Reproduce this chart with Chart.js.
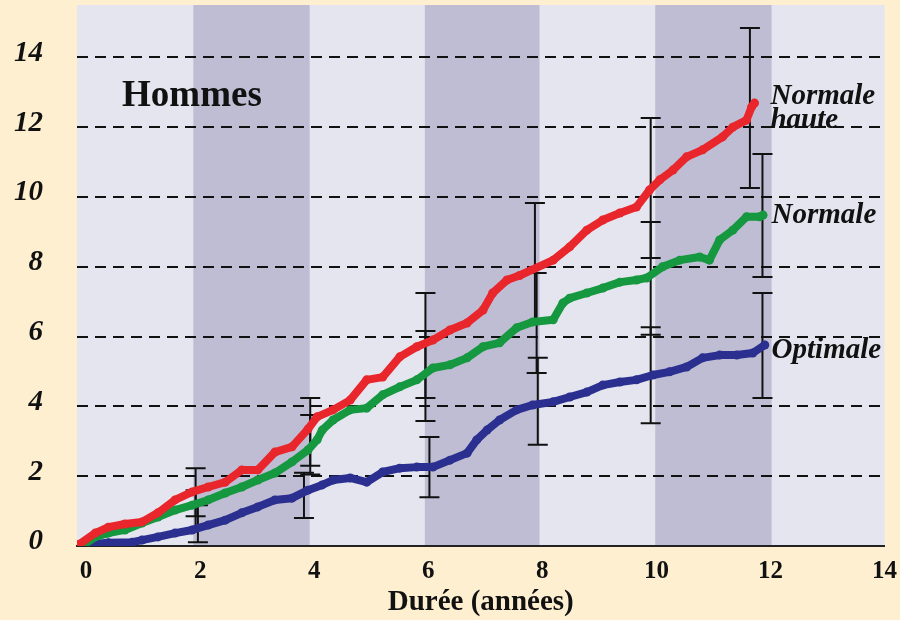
<!DOCTYPE html>
<html>
<head>
<meta charset="utf-8">
<script src="https://cdn.jsdelivr.net/npm/chart.js@4/dist/chart.umd.min.js"></script>
<style>
  html, body { margin: 0; padding: 0; background: #fdefd0; }
  canvas { display: block; }
</style>
</head>
<body>
<canvas id="chart" width="900" height="620"></canvas>
<script>
// axes
const xTicks = [0, 2, 4, 6, 8, 10, 12, 14];
const yTicks = [0, 2, 4, 6, 8, 10, 12, 14];
const darkBands = [[1.88, 3.92], [5.94, 7.95], [9.98, 12.02]];

// courbes (incidence cumulée, %)
const redX = [-0.12, 0.16, 0.39, 0.68, 0.98, 1.26, 1.56, 1.86, 2.14, 2.44, 2.73, 3.01, 3.31, 3.61, 3.89, 4.05, 4.33, 4.63, 4.92, 5.2, 5.5, 5.8, 6.08, 6.38, 6.68, 6.96, 7.13, 7.38, 7.6, 8.19, 8.48, 8.78, 9.06, 9.36, 9.65, 9.88, 10.06, 10.29, 10.53, 10.81, 11.16, 11.34, 11.58, 11.67, 11.72];
const redY = [0.05, 0.37, 0.54, 0.63, 0.69, 0.95, 1.32, 1.55, 1.69, 1.83, 2.18, 2.18, 2.69, 2.84, 3.35, 3.7, 3.9, 4.18, 4.76, 4.84, 5.42, 5.71, 5.9, 6.19, 6.39, 6.76, 7.25, 7.62, 7.75, 8.19, 8.57, 9.05, 9.34, 9.54, 9.71, 10.2, 10.49, 10.77, 11.15, 11.35, 11.72, 12.0, 12.2, 12.58, 12.69];

const greenX = [-0.07, 0.16, 0.39, 0.68, 0.98, 1.26, 1.56, 1.86, 2.14, 2.44, 2.73, 3.01, 3.31, 3.61, 3.89, 4.05, 4.14, 4.33, 4.63, 4.92, 5.2, 5.5, 5.8, 6.08, 6.38, 6.68, 6.96, 7.25, 7.55, 7.83, 8.19, 8.36, 8.48, 8.78, 9.06, 9.36, 9.65, 9.83, 10.11, 10.41, 10.76, 10.93, 11.11, 11.34, 11.58, 11.81, 11.87];
const greenY = [0, 0.26, 0.37, 0.46, 0.66, 0.83, 1.03, 1.17, 1.32, 1.52, 1.69, 1.89, 2.09, 2.41, 2.75, 3.04, 3.32, 3.61, 3.9, 3.95, 4.33, 4.56, 4.76, 5.1, 5.19, 5.39, 5.71, 5.82, 6.25, 6.42, 6.48, 6.96, 7.1, 7.25, 7.39, 7.56, 7.62, 7.68, 8.0, 8.19, 8.28, 8.19, 8.77, 9.05, 9.43, 9.43, 9.48];

const blueX = [-0.07, 0.39, 0.81, 0.98, 1.26, 1.56, 1.86, 2.14, 2.44, 2.73, 3.01, 3.31, 3.61, 3.89, 4.14, 4.33, 4.63, 4.92, 5.2, 5.5, 5.8, 6.08, 6.38, 6.68, 6.85, 7.03, 7.25, 7.55, 7.83, 8.19, 8.48, 8.78, 9.06, 9.36, 9.65, 9.94, 10.23, 10.53, 10.81, 11.11, 11.41, 11.69, 11.9];
const blueY = [0.03, 0.09, 0.11, 0.17, 0.26, 0.37, 0.46, 0.6, 0.74, 0.95, 1.12, 1.32, 1.37, 1.6, 1.75, 1.89, 1.95, 1.83, 2.12, 2.23, 2.26, 2.26, 2.46, 2.66, 3.04, 3.32, 3.61, 3.9, 4.04, 4.13, 4.27, 4.41, 4.61, 4.7, 4.76, 4.9, 4.99, 5.13, 5.39, 5.47, 5.47, 5.53, 5.76];

// barres d'erreur
const redErrX = [1.92, 3.93, 5.95, 7.87, 9.9, 11.64];
const redLow = [0.85, 2.3, 4.24, 6.4, 8.25, 10.26];
const redHigh = [2.23, 4.24, 7.25, 9.83, 12.26, 14.84];
const greenErrX = [1.92, 3.93, 5.95, 7.9, 9.9, 11.86];
const greenLow = [0.5, 2.05, 3.58, 4.96, 6.05, 7.71];
const greenHigh = [1.6, 3.75, 6.16, 7.82, 9.28, 11.23];
const blueErrX = [1.96, 3.82, 6.02, 7.92, 9.9, 11.86];
const blueLow = [0.11, 0.8, 1.4, 2.9, 3.52, 4.24];
const blueHigh = [1.17, 2.1, 3.12, 5.39, 6.27, 7.25];

function toPoints(xs, ys) {
  return xs.map((x, i) => ({ x, y: ys[i] }));
}

function errPoints(xs, lo, hi) {
  const pts = [];
  xs.forEach((x, i) => {
    pts.push({ x, y: lo[i] }, { x, y: hi[i] }, { x, y: null });
  });
  return pts;
}

function curve(label, xs, ys, color) {
  return {
    label,
    data: toPoints(xs, ys),
    borderColor: color,
    backgroundColor: color,
    borderWidth: 8,
    pointRadius: 4.5,
    pointBorderWidth: 0,
    borderJoinStyle: 'round',
    borderCapStyle: 'round',
    tension: 0,
    order: 1
  };
}

function errBars(label, xs, lo, hi) {
  return {
    label,
    data: errPoints(xs, lo, hi),
    borderColor: '#111',
    borderWidth: 2,
    pointStyle: 'line',
    pointRadius: 10,
    pointBorderWidth: 2,
    pointBorderColor: '#111',
    spanGaps: false,
    order: 5
  };
}

const bandPlugin = {
  id: 'bands',
  beforeDraw(chart) {
    const { ctx, chartArea: a, scales: { x } } = chart;
    ctx.save();
    ctx.fillStyle = '#fdefd0';
    ctx.fillRect(0, 0, chart.width, chart.height);
    ctx.fillStyle = '#e4e5ef';
    ctx.fillRect(a.left, a.top, a.right - a.left, a.bottom - a.top);
    ctx.fillStyle = '#bebdd3';
    darkBands.forEach(([s, e]) => {
      const x0 = x.getPixelForValue(s);
      const x1 = x.getPixelForValue(e);
      ctx.fillRect(x0, a.top, x1 - x0, a.bottom - a.top);
    });
    ctx.restore();
  }
};

const labelPlugin = {
  id: 'labels',
  afterDatasetsDraw(chart) {
    const { ctx, scales: { x, y } } = chart;
    ctx.save();
    ctx.fillStyle = '#111';
    ctx.textBaseline = 'middle';
    ctx.textAlign = 'left';
    ctx.font = 'bold 37px "Liberation Serif"';
    ctx.fillText('Hommes', x.getPixelForValue(0.63), y.getPixelForValue(12.87));
    ctx.font = 'italic bold 29px "Liberation Serif"';
    ctx.fillText('Normale', x.getPixelForValue(12.0), y.getPixelForValue(12.87));
    ctx.fillText('haute', x.getPixelForValue(12.0), y.getPixelForValue(12.2));
    ctx.fillText('Normale', x.getPixelForValue(12.02), y.getPixelForValue(9.47));
    ctx.fillText('Optimale', x.getPixelForValue(12.02), y.getPixelForValue(5.6));
    ctx.restore();
  }
};

new Chart(document.getElementById('chart'), {
  type: 'line',
  data: {
    datasets: [
      curve('Normale haute', redX, redY, '#e8262b'),
      curve('Normale', greenX, greenY, '#15983f'),
      curve('Optimale', blueX, blueY, '#2b2f8f'),
      errBars('IC Normale haute', redErrX, redLow, redHigh),
      errBars('IC Normale', greenErrX, greenLow, greenHigh),
      errBars('IC Optimale', blueErrX, blueLow, blueHigh)
    ]
  },
  options: {
    responsive: false,
    animation: false,
    layout: { autoPadding: false, padding: { top: 5, right: 15, left: 0, bottom: 0 } },
    plugins: {
      legend: { display: false },
      tooltip: { enabled: false }
    },
    scales: {
      x: {
        type: 'linear',
        min: -0.16,
        max: 14,
        afterBuildTicks: (s) => { s.ticks = xTicks.map((v) => ({ value: v })); },
        afterFit: (s) => { s.height = 74; },
        grid: { display: false },
        border: { display: true, color: '#222', width: 2 },
        ticks: {
          color: '#111',
          padding: 3,
          font: { family: 'Liberation Serif', weight: 'bold', size: 25 }
        },
        title: {
          display: true,
          text: 'Durée (années)',
          color: '#111',
          padding: { top: 0, bottom: 0 },
          font: { family: 'Liberation Serif', weight: 'bold', size: 29 }
        }
      },
      y: {
        min: 0,
        max: 15.5,
        afterBuildTicks: (s) => { s.ticks = yTicks.map((v) => ({ value: v })); },
        afterFit: (s) => { s.width = 77; s.paddingTop = 0; s.paddingBottom = 0; },
        grid: {
          color: (c) => (c.tick && c.tick.value === 0 ? 'rgba(0,0,0,0)' : '#111'),
          lineWidth: 2,
          drawTicks: false
        },
        border: { display: false, dash: [11, 7] },
        ticks: {
          color: '#111',
          padding: 34,
          labelOffset: -4,
          font: { family: 'Liberation Serif', weight: 'bold', style: 'italic', size: 29 }
        }
      }
    }
  },
  plugins: [bandPlugin, labelPlugin]
});
</script>
</body>
</html>
